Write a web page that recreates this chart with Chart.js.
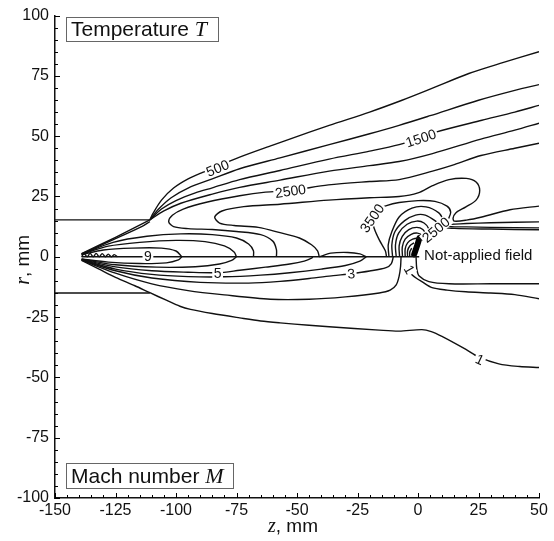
<!DOCTYPE html>
<html>
<head>
<meta charset="utf-8">
<script src="https://cdn.jsdelivr.net/npm/chart.js@4/dist/chart.umd.min.js"></script>
<style>
  html, body { margin: 0; padding: 0; background: #fff; }
</style>
</head>
<body>
<canvas id="chart" width="554" height="541"></canvas>
<script>
// Contour lines, as [z, r] pairs in mm.
// Upper half: temperature T.  Lower half: Mach number M.
var lipUpper = [[-150, 15.3], [-110.8, 15.3]];
var lipLower = [[-150, -15], [-110.8, -15]];
var axisLine = [[-139, 0], [0.5, 0]];

var coneUpper1 = [[-139, 1.3], [-125, 8.1], [-110.8, 15.3]];
var coneUpper2 = [[-139, 1.2], [-125, 7.5], [-114, 12.6], [-110.8, 14.6]];

var t500 = [[-110.8, 15.3], [-109.5, 18], [-106, 23.5], [-101, 28.5], [-95, 32.3], [-89, 35], [-82.8, 37.5],
  [-73.7, 41.3], [-60, 46.3], [-53, 48.8], [-36.7, 54.5], [-20, 60], [-6.6, 64.9], [5, 69.5], [21, 76], [35, 80.5], [50, 85]];
var t1000 = [[-110.8, 15.3], [-107.5, 19.5], [-102, 24.5], [-95, 28.5], [-85, 32.3], [-73.7, 36.5], [-57, 41],
  [-36.7, 46.5], [-20, 51], [-7.8, 54.5], [5, 58.5], [25, 64.9], [40, 69], [50, 71.4]];
var t1500 = [[-110.8, 15.3], [-106, 19.8], [-100, 23.3], [-92, 26.5], [-85, 28.6], [-73.7, 32], [-57, 35.8],
  [-36.7, 40.5], [-20, 43.8], [-7.8, 46.5], [0.4, 49.2], [7.4, 51.7], [26.4, 56.6], [40, 60], [50, 62.8]];
var t2000 = [[-110.8, 15.3], [-105, 19], [-98, 22.2], [-85, 26], [-73.7, 28.8], [-57, 31.8], [-36.7, 35.5],
  [-20, 37.8], [-7.8, 39.5], [6, 42.8], [26, 48.8], [40, 52.5], [50, 55.4]];
var t2500 = [[-58.5, 0], [-58.5, 3], [-60, 6.5], [-65, 9.2], [-75, 10.5], [-85, 11.3], [-95, 11.7], [-101, 12.5],
  [-103, 14.5], [-101.5, 17.2], [-97, 19.8], [-87, 22.7], [-73.7, 25.3], [-63, 26.8], [-52.7, 27.5], [-37, 29.8],
  [-20, 31.2], [-7.8, 32], [6, 35.5], [15, 38.2], [26, 42], [40, 45], [50, 47.1]];
var t3000 = [[-40.8, 0], [-41.5, 2.5], [-44, 5], [-49, 7.8], [-57, 10], [-66, 12.2], [-76, 13], [-82, 14],
  [-84, 16.5], [-81, 19], [-72, 20.8], [-57, 21.8], [-37, 23.5], [-20, 24.5], [-7.8, 25], [0, 26.5], [6, 29.5],
  [12.8, 32], [20, 32.5], [24, 31], [25.5, 27.5], [24, 23.5], [19.8, 20.7], [15.6, 18.2], [14.5, 16], [15, 14.8],
  [20, 15.2], [26.4, 16.5], [38, 19.5], [50, 21]];
var t3500 = [[-13, 0], [-13.5, 2.5], [-16, 7], [-18, 11.5], [-19, 16], [-16.5, 19.5], [-13, 21.2], [-7.8, 22.5],
  [0, 23.3], [7, 23], [12, 21], [13.5, 18.5], [12.5, 15.5], [12, 13.6], [20, 13.8], [30, 14.1], [50, 14.5]];
var t4000 = [[-12, 0], [-12.3, 5], [-11, 9.9], [-7.8, 16.5], [-2.5, 20.2], [3.3, 20.7], [8.6, 18.2], [11, 14.5],
  [12, 12.7], [20, 12.4], [30, 12.2], [50, 12]];
var t4500 = [[-10.5, 0], [-10.8, 5], [-9.5, 10.5], [-5.5, 15], [-1, 17.3], [3, 17.3], [7, 15], [10, 12.3],
  [15, 11.8], [30, 11.5], [50, 11.2]];
var hot1 = [[-9, 0], [-9.3, 5], [-8, 9.8], [-4.5, 13.5], [-0.5, 14.8], [2.5, 14], [4.5, 11.5], [4.3, 8.5], [2.5, 6.5]];
var hot2 = [[-7.6, 0], [-7.8, 4.5], [-6.5, 8.5], [-3.8, 11.3], [-0.5, 12.2], [2, 11.3], [3.2, 9], [2.2, 6.8]];
var hot3 = [[-6.4, 0], [-6.5, 4], [-5.3, 7.3], [-2.8, 9.3], [-0.2, 9.8], [1.8, 8.6], [1.8, 6.8]];
var hot4 = [[-5.3, 0], [-5.3, 3.3], [-4.3, 5.8], [-2.2, 7.3], [0, 7.7], [1.2, 7]];
var hot5 = [[-4.3, 0], [-4.3, 2.6], [-3.3, 4.6], [-1.6, 5.8]];
var hot6 = [[-3.4, 0], [-3.4, 2], [-2.6, 3.6]];
var hotCore = [[0.6, 7.8], [-0.4, 4.5], [-1.6, 1]];

var tipUpper1 = [[-139, 0.9], [-130, 2.8], [-118, 3.6], [-106, 3.6], [-100, 2.4], [-97.6, 0]];
var tipUpper2 = [[-139, 1.0], [-128, 4.4], [-115, 6], [-100, 6.8], [-88, 6.3], [-80, 4.5], [-76, 2], [-75, 0]];
var tipUpper3 = [[-139, 1.1], [-126, 6], [-112, 8.5], [-98, 9.5], [-85, 9.2], [-75, 7.8], [-70, 5.3], [-68, 2.5], [-68, 0]];
var bumpUpper = [[-40.8, 0], [-36, 1.5], [-29, 1.8], [-24, 1.2], [-21.4, 0]];
var tipRipple = [[-139, 0], [-138, 1.3], [-136.7, 0], [-135.5, 1.4], [-134.2, 0], [-133, 1.4], [-131.7, 0],
  [-130.5, 1.3], [-129.2, 0], [-128, 1.1], [-126.7, 0], [-125.5, 0.9], [-124.2, 0]];

var m1 = [[-139, -1.5], [-132, -5], [-125, -8.5], [-117, -12], [-110.8, -14.9], [-104, -18], [-98.4, -20.5],
  [-94, -21.8], [-85, -23.5], [-73.7, -25.3], [-65, -26.6], [-57, -27.4], [-45, -28.4], [-36.7, -29], [-16, -30.4],
  [-7.8, -30.8], [1.6, -30.2], [5.5, -31], [9.9, -33], [19.8, -38.4], [25, -41.5], [33.4, -44.4], [42, -45.5], [50, -45.9]];
var m2 = [[-139, -1.4], [-125, -6.8], [-110, -11.2], [-95, -14], [-80, -15.8], [-61, -17.6], [-45, -17.6],
  [-30, -16.6], [-16, -15], [-11.5, -13.8], [-9, -11.6], [-7.8, -8], [-7.2, -4], [-7, 0]];
var m3 = [[-139, -1.3], [-125, -5.8], [-110, -8.8], [-90, -10.6], [-70, -10.9], [-57, -10.2], [-45, -9],
  [-35, -7.8], [-27.6, -7], [-20, -5.9], [-13.2, -4.5], [-11, -2.8], [-10.2, 0]];
var m4 = [[-139, -1.2], [-125, -5.1], [-110, -7.3], [-95, -8.2], [-80, -8.3], [-65, -7.6], [-53, -6.6],
  [-40, -5.1], [-30, -3.6], [-24, -1.8], [-21.4, 0]];
var m5 = [[-139, -1.1], [-125, -4.2], [-110, -5.8], [-95, -6.4], [-82.8, -6.6], [-73.7, -5.6], [-63, -4.3],
  [-53, -3], [-47, -1.8], [-44, -0.6], [-43.5, 0]];
var tipLower2 = [[-139, -1.0], [-125, -3.3], [-108, -4.3], [-92, -4.1], [-82, -3], [-77, -1.5], [-75, 0]];
var tipLower1 = [[-139, -0.9], [-128, -2.2], [-115, -2.8], [-104, -2.5], [-99, -1.3], [-97.6, 0]];
var wakeLower1 = [[-0.8, 0], [-0.5, -5], [0.5, -8], [4.5, -10.3], [12.8, -11.2], [30, -11.2], [50, -11.2]];
var wakeLower2 = [[-3.2, -6.2], [-2.5, -7.4], [-0.5, -9], [1.6, -10.3], [5.8, -12.8], [12, -13.8], [19.8, -14.5],
  [30, -15], [40, -15.7], [50, -17.4]];

// Inline contour labels: text, z, r, rotation (deg)
var contourLabels = [
  ['500', -82.8, 36.8, -22], ['1500', 1.2, 49.2, -18], ['2500', -52.7, 27.3, -8],
  ['3500', -19, 16, -55], ['2500', 7.4, 11.2, -40], ['9', -111.6, 0.3, 0],
  ['5', -82.8, -6.6, 0], ['3', -27.6, -7, -5], ['1', -3.6, -5.2, 60], ['1', 25.5, -42.6, 25]
];

var thinLines = [lipUpper, lipLower, axisLine, coneUpper1, coneUpper2, t500, t1000, t1500, t2000, t2500, t3000,
  t3500, t4000, t4500, hot1, hot2, hot3, hot4, hot5, hot6, tipUpper1, tipUpper2, tipUpper3, bumpUpper, tipRipple,
  m1, m2, m3, m4, m5, tipLower2, tipLower1, wakeLower1, wakeLower2];

function toPoints(a) {
  return a.map(function (p) { return {x: p[0], y: p[1]}; });
}

var datasets = thinLines.map(function (l) {
  return {
    data: toPoints(l), showLine: true, borderColor: '#111', borderWidth: 1.4,
    pointRadius: 0, fill: false, tension: 0.3
  };
});
datasets.push({
  data: toPoints(hotCore), showLine: true, borderColor: '#000', borderWidth: 6,
  borderCapStyle: 'round', pointRadius: 0, fill: false, tension: 0.3
});

var SANS = '"Liberation Sans", Arial, sans-serif';
var SERIF = '"Liberation Serif", "Times New Roman", serif';

// draws inward ticks, inline labels, boxed captions and axis titles
var decorations = {
  id: 'decorations',
  afterDatasetsDraw: function (chart) {
    var ctx = chart.ctx, xs = chart.scales.x, ys = chart.scales.y, a = chart.chartArea;
    ctx.save();

    // inward tick marks
    ctx.strokeStyle = '#000';
    ctx.lineWidth = 1;
    ctx.beginPath();
    for (var v = -150; v <= 50; v += 5) {
      var px = Math.round(xs.getPixelForValue(v)) + 0.5;
      var len = (v % 25 === 0) ? 5 : 3;
      ctx.moveTo(px, a.bottom);
      ctx.lineTo(px, a.bottom - len);
    }
    for (var w = -100; w <= 100; w += 5) {
      var py = Math.round(ys.getPixelForValue(w)) + 0.5;
      var l2 = (w % 25 === 0) ? 5 : 3;
      ctx.moveTo(a.left, py);
      ctx.lineTo(a.left + l2, py);
    }
    ctx.stroke();

    // contour labels with a white gap behind them
    ctx.font = '14px ' + SANS;
    ctx.textAlign = 'center';
    ctx.textBaseline = 'middle';
    contourLabels.forEach(function (lb) {
      var x = xs.getPixelForValue(lb[1]), y = ys.getPixelForValue(lb[2]);
      var tw = ctx.measureText(lb[0]).width;
      ctx.save();
      ctx.translate(x, y);
      ctx.rotate(lb[3] * Math.PI / 180);
      ctx.fillStyle = '#fff';
      ctx.fillRect(-tw / 2 - 1.5, -6, tw + 3, 12);
      ctx.fillStyle = '#111';
      ctx.fillText(lb[0], 0, 1);
      ctx.restore();
    });

    // "Not-applied field"
    ctx.font = '15px ' + SANS;
    ctx.textAlign = 'left';
    ctx.fillStyle = '#111';
    ctx.fillText('Not-applied field', xs.getPixelForValue(2.5), ys.getPixelForValue(0.2));

    // boxed captions
    function caption(x, y, w, h, plain, ital) {
      ctx.fillStyle = '#fff';
      ctx.fillRect(x, y, w, h);
      ctx.strokeStyle = '#666';
      ctx.lineWidth = 1;
      ctx.strokeRect(x + 0.5, y + 0.5, w, h);
      ctx.fillStyle = '#111';
      ctx.textBaseline = 'alphabetic';
      ctx.font = '21px ' + SANS;
      ctx.fillText(plain, x + 5, y + h - 5);
      var pw = ctx.measureText(plain).width;
      ctx.font = 'italic 22px ' + SERIF;
      ctx.fillText(ital, x + 5 + pw, y + h - 5);
    }
    caption(66, 17, 152, 24, 'Temperature ', 'T');
    caption(66, 463, 167, 25, 'Mach number ', 'M');

    // axis titles
    function title(ital, rest) {
      ctx.font = 'italic 20px ' + SERIF;
      var w1 = ctx.measureText(ital).width;
      ctx.font = '19px ' + SANS;
      var w2 = ctx.measureText(rest).width;
      var x0 = -(w1 + w2) / 2;
      ctx.textAlign = 'left';
      ctx.textBaseline = 'middle';
      ctx.font = 'italic 20px ' + SERIF;
      ctx.fillText(ital, x0, 0);
      ctx.font = '19px ' + SANS;
      ctx.fillText(rest, x0 + w1, 0);
    }
    ctx.fillStyle = '#111';
    ctx.save();
    ctx.translate((a.left + a.right) / 2 - 4, 527);
    title('z', ', mm');
    ctx.restore();
    ctx.save();
    ctx.translate(24, (a.top + a.bottom) / 2 + 3);
    ctx.rotate(-Math.PI / 2);
    title('r', ', mm');
    ctx.restore();

    ctx.restore();
  }
};

new Chart(document.getElementById('chart'), {
  type: 'scatter',
  data: {datasets: datasets},
  options: {
    responsive: false,
    animation: false,
    devicePixelRatio: 1,
    layout: {padding: {left: 0, top: 15, right: 15, bottom: 0}},
    plugins: {legend: {display: false}, tooltip: {enabled: false}},
    scales: {
      x: {
        type: 'linear', min: -150, max: 50,
        ticks: {stepSize: 25, color: '#111', font: {family: SANS, size: 16}, padding: 3, maxRotation: 0, autoSkip: false},
        grid: {display: false, drawTicks: false},
        border: {display: true, color: '#111', width: 1.5},
        afterFit: function (s) { s.height = 43; }
      },
      y: {
        type: 'linear', min: -100, max: 100,
        ticks: {stepSize: 25, color: '#111', font: {family: SANS, size: 16}, padding: 6, autoSkip: false},
        grid: {display: false, drawTicks: false},
        border: {display: true, color: '#111', width: 1.5},
        afterFit: function (s) { s.width = 55; }
      }
    }
  },
  plugins: [decorations]
});
</script>
</body>
</html>
